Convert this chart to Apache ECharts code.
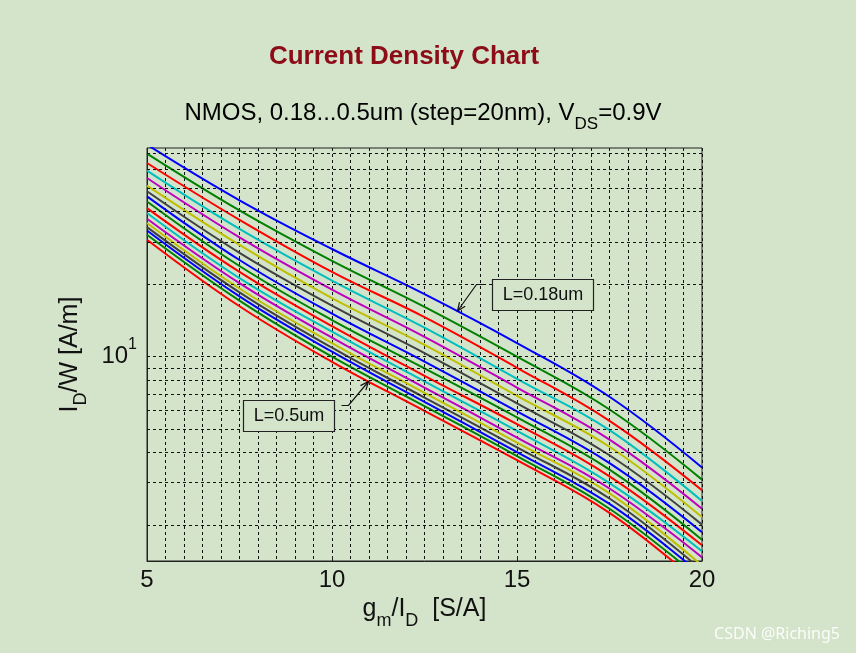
<!DOCTYPE html>
<html>
<head>
<meta charset="utf-8">
<script src="https://cdn.jsdelivr.net/npm/echarts@6/dist/echarts.min.js"></script>
<style>
html,body{margin:0;padding:0;background:#d4e4ca;}
#chart{width:856px;height:653px;}
</style>
</head>
<body>
<div id="chart"></div>
<script>
// gm/ID sample positions [S/A]
const gmId = [5, 7.5, 10, 12.5, 15, 17.5, 20];

// ID/W [A/m] for each channel length
const L018 = [75.9, 44.6, 28.0, 18.2, 11.4, 6.82, 3.47];
const L020 = [69.7, 40.5, 25.0, 16.1, 10.0, 6.04, 3.09];
const L022 = [63.7, 37.0, 22.5, 14.6, 9.0, 5.42, 2.79];
const L024 = [59.2, 33.9, 20.7, 13.2, 8.1, 4.96, 2.52];
const L026 = [55.2, 31.3, 19.0, 12.1, 7.45, 4.53, 2.34];
const L028 = [51.3, 29.1, 17.5, 11.2, 6.88, 4.23, 2.16];
const L030 = [48.6, 27.0, 16.3, 10.35, 6.40, 3.90, 2.01];
const L032 = [46.3, 25.2, 15.1, 9.55, 5.93, 3.62, 1.87];
const L034 = [44.1, 23.8, 14.2, 8.95, 5.60, 3.40, 1.74];
const L036 = [41.4, 22.5, 13.4, 8.33, 5.25, 3.19, 1.65];
const L038 = [39.5, 21.2, 12.7, 7.90, 4.92, 2.99, 1.56];
const L040 = [37.4, 20.2, 12.0, 7.45, 4.62, 2.84, 1.47];
const L042 = [35.9, 19.2, 11.4, 7.08, 4.40, 2.71, 1.36];
const L044 = [34.5, 18.5, 10.9, 6.77, 4.21, 2.58, 1.30];
const L046 = [33.4, 17.8, 10.5, 6.50, 4.02, 2.45, 1.24];
const L048 = [32.1, 17.1, 10.0, 6.24, 3.87, 2.34, 1.18];
const L050 = [30.6, 16.2, 9.53, 5.96, 3.72, 2.25, 1.12];

const lengths = ['0.18','0.20','0.22','0.24','0.26','0.28','0.30','0.32','0.34','0.36','0.38','0.40','0.42','0.44','0.46','0.48','0.50'];
const curves = [L018, L020, L022, L024, L026, L028, L030, L032, L034, L036, L038, L040, L042, L044, L046, L048, L050];

const lineColors = ['#0000ff', '#008000', '#ff0000', '#00bfbf', '#bf00bf', '#bfbf00', '#404040'];

// y grid lines (log decades with minor divisions) and axis ranges
const yGridValues = [2, 3, 4, 5, 6, 7, 8, 9, 10, 20, 30, 40, 50, 60, 70];
const yMin = 1.42, yMax = 73.5;
const xMin = 5, xMax = 20;

const FONT = '"Liberation Sans", Arial, sans-serif';
const BG = '#d4e4ca';

const chart = echarts.init(document.getElementById('chart'));

const series = curves.map((vals, i) => ({
  type: 'line',
  name: 'L=' + lengths[i] + 'um',
  data: gmId.map((x, j) => [x, vals[j]]),
  showSymbol: false,
  smooth: 0.4,
  clip: true,
  z: 3,
  color: lineColors[i % lineColors.length],
  lineStyle: { width: 2, color: lineColors[i % lineColors.length] }
}));

series.unshift({
  type: 'line',
  name: 'grid',
  data: [],
  z: 1,
  silent: true,
  markLine: {
    silent: true,
    symbol: 'none',
    label: { show: false },
    lineStyle: { color: '#111', type: [3, 3], width: 1 },
    data: yGridValues.map(v => ({ yAxis: v }))
  }
});

function arrowHead(tip, from, len, ang) {
  const dx = tip[0] - from[0], dy = tip[1] - from[1];
  const d = Math.hypot(dx, dy);
  const bx = -dx / d, by = -dy / d;
  const c = Math.cos(ang), s = Math.sin(ang);
  return [
    [tip[0] + len * (bx * c - by * s), tip[1] + len * (bx * s + by * c)],
    tip,
    [tip[0] + len * (bx * c + by * s), tip[1] + len * (-bx * s + by * c)]
  ];
}

const a1 = [[485, 284.5], [476.5, 284.5], [457.5, 311]];
const a2 = [[341.5, 405.5], [348.5, 405.5], [368.5, 381.5]];

const subRich = (main, sub, lh) => ({
  n: { fontSize: main, fontFamily: FONT, color: '#111', verticalAlign: 'top', lineHeight: lh },
  s: { fontSize: sub, fontFamily: FONT, color: '#111', verticalAlign: 'bottom' }
});

const option = {
  backgroundColor: BG,
  animation: false,
  grid: { left: 147, right: 154, top: 148, bottom: 92, show: true, borderColor: '#222', borderWidth: 1 },
  xAxis: {
    type: 'value', min: xMin, max: xMax, interval: 5,
    axisLine: { show: true, onZero: false, lineStyle: { color: '#222', width: 1 } },
    axisTick: { show: true, inside: true, length: 5, lineStyle: { color: '#222' } },
    axisLabel: { fontFamily: FONT, fontSize: 24, color: '#111', margin: 7 },
    splitLine: { show: true, lineStyle: { color: '#111', type: [3, 3], width: 1 } },
    minorTick: { show: false, splitNumber: 10 },
    minorSplitLine: { show: true, lineStyle: { color: '#111', type: [3, 3], width: 1 } },
    name: '{n|g}{s|m}{n|/I}{s|D}{n|  [S/A]}',
    nameLocation: 'middle', nameGap: 31,
    nameTextStyle: { rich: subRich(25, 18, 33) }
  },
  yAxis: {
    type: 'log', logBase: 10, min: yMin, max: yMax,
    axisLine: { show: true, lineStyle: { color: '#222', width: 1 } },
    axisTick: { show: false },
    splitLine: { show: false },
    axisLabel: {
      margin: 10,
      formatter: v => (Math.abs(v - 10) < 1e-6 ? '{a|10}{b|1}' : ''),
      rich: {
        a: { fontSize: 24, fontFamily: FONT, color: '#111', lineHeight: 41, verticalAlign: 'middle' },
        b: { fontSize: 16, fontFamily: FONT, color: '#111', verticalAlign: 'top' }
      }
    },
    name: '{n|I}{s|D}{n|/W [A/m]}',
    nameLocation: 'middle', nameRotate: 90, nameGap: 44,
    nameTextStyle: { rich: subRich(25, 18, 33) }
  },
  series: series,
  graphic: [
    { type: 'text', x: 404, y: 57, style: { text: 'Current Density Chart', font: 'bold 26px ' + FONT, fill: '#8c0c17', align: 'center', verticalAlign: 'middle' } },
    { type: 'text', x: 423, y: 117, style: {
        text: '{n|NMOS, 0.18...0.5um (step=20nm), V}{s|DS}{n|=0.9V}',
        align: 'center', verticalAlign: 'middle',
        rich: subRich(24, 17, 32)
      } },
    { type: 'rect', shape: { x: 492.5, y: 279.5, width: 101, height: 31 }, style: { fill: BG, stroke: '#222', lineWidth: 1.2 }, z: 10 },
    { type: 'text', x: 543, y: 295, z: 11, style: { text: 'L=0.18um', font: '18px ' + FONT, fill: '#111', align: 'center', verticalAlign: 'middle' } },
    { type: 'polyline', shape: { points: a1 }, style: { stroke: '#111', lineWidth: 1.2, fill: null }, z: 10 },
    { type: 'polyline', shape: { points: arrowHead(a1[2], a1[1], 9, 0.4) }, style: { stroke: '#111', lineWidth: 1.2, fill: null }, z: 10 },
    { type: 'rect', shape: { x: 243.5, y: 400.5, width: 91, height: 31 }, style: { fill: BG, stroke: '#222', lineWidth: 1.2 }, z: 10 },
    { type: 'text', x: 289, y: 416, z: 11, style: { text: 'L=0.5um', font: '18px ' + FONT, fill: '#111', align: 'center', verticalAlign: 'middle' } },
    { type: 'polyline', shape: { points: a2 }, style: { stroke: '#111', lineWidth: 1.2, fill: null }, z: 10 },
    { type: 'polyline', shape: { points: arrowHead(a2[2], a2[1], 9, 0.4) }, style: { stroke: '#111', lineWidth: 1.2, fill: null }, z: 10 },
    { type: 'text', x: 840, y: 634, style: { text: 'CSDN @Riching5', font: '16px "Noto Sans", sans-serif', fill: 'rgba(255,255,255,0.9)', align: 'right', verticalAlign: 'middle' } }
  ]
};

chart.setOption(option);
</script>
</body>
</html>
